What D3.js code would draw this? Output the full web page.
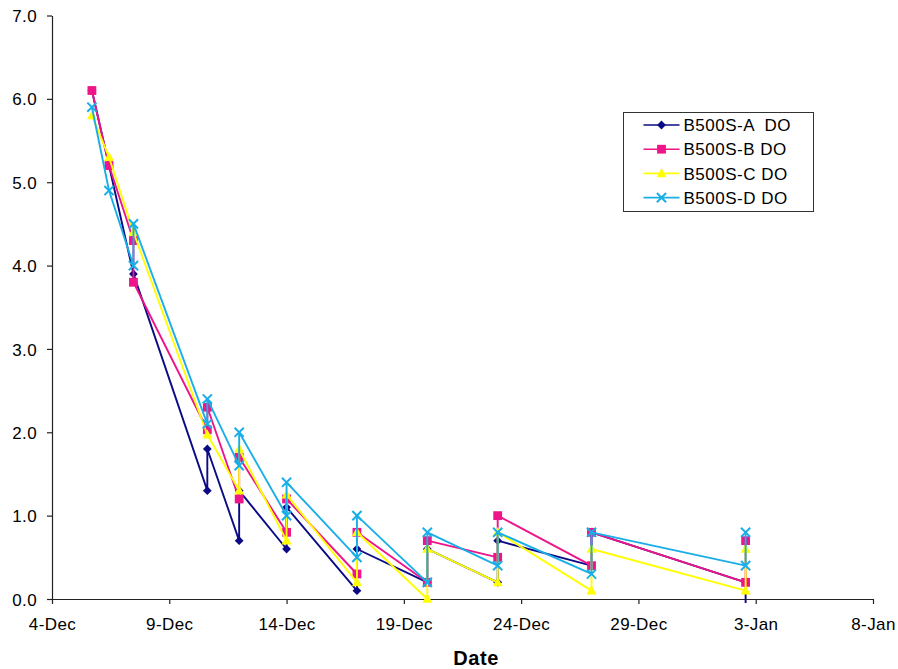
<!DOCTYPE html>
<html>
<head>
<meta charset="utf-8">
<script src="https://cdn.jsdelivr.net/npm/d3@7"></script>
<style>
  html, body { margin: 0; padding: 0; background: #fff; }
  svg { display: block; font-family: "Liberation Sans", Arial, sans-serif; }
</style>
</head>
<body>
<svg id="chart" width="898" height="669"></svg>
<script>
// Sampling times; some samples have two readings at the same time
const sampleTimes = [
  "2007-12-05T16:50", "2007-12-06T10:20", "2007-12-07T11:20", "2007-12-10T14:55",
  "2007-12-11T23:30", "2007-12-14T00:00", "2007-12-17T00:00", "2007-12-20T00:00",
  "2007-12-23T00:00", "2007-12-27T00:00", "2008-01-02T13:40"
];

// Dissolved oxygen readings: [sample index, DO]
const doA = [[0,6.1],[1,5.2],[2,3.9],[3,1.3],[3,1.8],[4,0.7],[4,1.3],[5,0.6],[5,1.1],
             [6,0.1],[6,0.6],[7,0.2],[7,0.6],[8,0.2],[8,0.7],[9,0.4],[9,0.8],[10,0.2],[10,-0.3]];
const doB = [[0,6.1],[1,5.2],[2,4.3],[2,3.8],[3,2.03],[3,2.3],[4,1.2],[4,1.7],[5,0.8],[5,1.2],
             [6,0.3],[6,0.8],[7,0.2],[7,0.7],[8,0.5],[8,1.0],[9,0.4],[9,0.8],[10,0.2],[10,0.7]];
const doC = [[0,5.8],[1,5.3],[2,4.4],[3,1.97],[4,1.3],[4,1.8],[5,0.7],[5,1.25],
             [6,0.2],[6,0.8],[7,0.0],[7,0.6],[8,0.2],[8,0.8],[9,0.1],[9,0.6],[10,0.1],[10,0.6]];
const doD = [[0,5.9],[1,4.9],[2,4.0],[2,4.5],[3,2.1],[3,2.4],[4,1.6],[4,2.0],[5,1.0],[5,1.4],
             [6,0.5],[6,1.0],[7,0.2],[7,0.8],[8,0.4],[8,0.8],[9,0.3],[9,0.8],[10,0.4],[10,0.8]];

const seriesNames = ["B500S-A  DO", "B500S-B DO", "B500S-C DO", "B500S-D DO"];
const seriesColors = ["#0b0b85", "#ee1489", "#ffff00", "#1aaee8"];
const seriesMarkers = ["diamond", "square", "triangle", "cross"];

const xTickDates = ["2007-12-04","2007-12-09","2007-12-14","2007-12-19","2007-12-24","2007-12-29","2008-01-03","2008-01-08"];
const yTicks = [0, 1, 2, 3, 4, 5, 6, 7];
const xTitle = "Date";

const parseT = d3.timeParse("%Y-%m-%dT%H:%M");
const parseD = d3.timeParse("%Y-%m-%d");
const times = sampleTimes.map(parseT);
const xTicks = xTickDates.map(parseD);

const svg = d3.select("#chart");
const plotLeft = 52, plotRight = 873, plotTop = 15.5, plotBottom = 599;

const x = d3.scaleTime()
  .domain([xTicks[0], xTicks[xTicks.length - 1]])
  .range([plotLeft, plotRight]);
const y = d3.scaleLinear().domain([0, 7]).range([plotBottom, plotTop]);

// clip the lines to the plotting area (slight bleed at the bottom edge)
svg.append("defs").append("clipPath").attr("id", "plotClip")
  .append("rect").attr("x", plotLeft - 6).attr("y", 0)
  .attr("width", plotRight - plotLeft + 12).attr("height", plotBottom + 4);

// axes
const fmt = d3.timeFormat("%-d-%b");
const xAxis = svg.append("g")
  .attr("transform", `translate(0,${plotBottom})`)
  .call(d3.axisBottom(x).tickValues(xTicks).tickFormat(fmt).tickSize(5).tickSizeOuter(0).tickPadding(14));
const yAxis = svg.append("g")
  .attr("transform", `translate(${plotLeft},0)`)
  .call(d3.axisLeft(y).tickValues(yTicks).tickFormat(d3.format(".1f")).tickSize(5).tickSizeOuter(0).tickPadding(10));

[xAxis, yAxis].forEach(g => {
  g.select(".domain").attr("stroke", "#222").attr("stroke-width", 1.2);
  g.selectAll(".tick line").attr("stroke", "#222").attr("stroke-width", 1.2);
  g.selectAll(".tick text")
    .attr("fill", "#000")
    .style("font-size", "17px")
    .style("letter-spacing", "0.4px")
    .style("font-family", "'Liberation Sans', Arial, sans-serif");
});
yAxis.selectAll(".tick text").attr("dy", "0.36em");

svg.append("text")
  .attr("x", 476).attr("y", 665)
  .attr("text-anchor", "middle")
  .style("font-size", "20px").style("font-weight", "bold").style("letter-spacing", "0.6px")
  .text(xTitle);

// marker drawing
function drawMarker(g, kind, color) {
  if (kind === "diamond") {
    g.append("path").attr("d", "M0,-4.4L4.4,0L0,4.4L-4.4,0Z").attr("fill", color);
  } else if (kind === "square") {
    g.append("rect").attr("x", -4.4).attr("y", -4.4).attr("width", 8.8).attr("height", 8.8).attr("fill", color);
  } else if (kind === "triangle") {
    g.append("path").attr("d", "M0,-5.4L5,3.8L-5,3.8Z").attr("fill", color);
  } else {
    g.append("path").attr("d", "M-4.6,-4.6L4.6,4.6M-4.6,4.6L4.6,-4.6")
      .attr("stroke", color).attr("stroke-width", 2).attr("fill", "none");
  }
}

const line = d3.line().x(d => x(times[d[0]])).y(d => y(d[1]));
const plot = svg.append("g").attr("clip-path", "url(#plotClip)");

[doA, doB, doC, doD].forEach((data, i) => {
  const g = plot.append("g");
  g.append("path").datum(data)
    .attr("d", line)
    .attr("fill", "none")
    .attr("stroke", seriesColors[i])
    .attr("stroke-width", 1.9)
    .attr("stroke-linejoin", "round");
  data.forEach(d => {
    const m = g.append("g").attr("transform", `translate(${x(times[d[0]])},${y(d[1])})`);
    drawMarker(m, seriesMarkers[i], seriesColors[i]);
  });
});

// legend
const lg = svg.append("g").attr("transform", "translate(623.5,112.5)");
lg.append("rect").attr("width", 190).attr("height", 99)
  .attr("fill", "#fff").attr("stroke", "#333").attr("stroke-width", 1);
seriesNames.forEach((name, i) => {
  const yy = 12.5 + i * 24.2;
  const row = lg.append("g").attr("transform", `translate(0,${yy})`);
  row.append("line").attr("x1", 20).attr("x2", 56).attr("y1", 0).attr("y2", 0)
    .attr("stroke", seriesColors[i]).attr("stroke-width", 1.6);
  drawMarker(row.append("g").attr("transform", "translate(38,0)"), seriesMarkers[i], seriesColors[i]);
  row.append("text").attr("x", 60).attr("y", 0).attr("dy", "0.36em")
    .style("font-size", "17px").style("letter-spacing", "0.5px")
    .style("white-space", "pre")
    .attr("xml:space", "preserve")
    .text(name);
});
</script>
</body>
</html>
